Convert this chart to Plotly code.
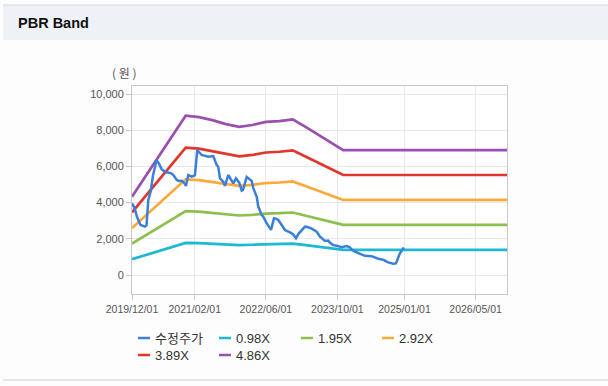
import plotly.graph_objects as go

# ---------------- data ----------------
price_dates = [
    "2019-12-01", "2019-12-18", "2020-01-04", "2020-01-28", "2020-02-28", "2020-03-09",
    "2020-03-21", "2020-04-06", "2020-04-22", "2020-05-17", "2020-06-02", "2020-06-20",
    "2020-07-13", "2020-08-04", "2020-08-25", "2020-09-08", "2020-10-01", "2020-10-16",
    "2020-11-04", "2020-11-19", "2020-12-03", "2020-12-19", "2021-01-11", "2021-02-02",
    "2021-02-18", "2021-03-20", "2021-04-12", "2021-05-04", "2021-06-07", "2021-06-30",
    "2021-07-11", "2021-07-23", "2021-08-14", "2021-08-26", "2021-09-17", "2021-10-11",
    "2021-10-22", "2021-11-09", "2021-12-01", "2021-12-18", "2021-12-27", "2022-01-21",
    "2022-02-24", "2022-03-07", "2022-03-30", "2022-04-10", "2022-05-03", "2022-05-14",
    "2022-06-06", "2022-07-06", "2022-07-26", "2022-08-12", "2022-08-24", "2022-09-17",
    "2022-10-09", "2022-11-12", "2022-12-03", "2022-12-23", "2023-01-12", "2023-02-22",
    "2023-03-11", "2023-04-09", "2023-05-13", "2023-06-05", "2023-07-09", "2023-07-31",
    "2023-08-12", "2023-09-03", "2023-09-26", "2023-10-31", "2023-12-04", "2023-12-26",
    "2024-01-07", "2024-01-29", "2024-03-03", "2024-04-06", "2024-05-22", "2024-07-06",
    "2024-08-09", "2024-09-12", "2024-10-16", "2024-11-04", "2024-12-01", "2024-12-28",
]
price_values = [
    3960, 3700, 3220, 2760, 2670, 2750,
    4150, 4600, 5500, 6350, 6150, 5850,
    5700, 5650, 5620, 5520, 5250, 5200,
    5210, 5100, 4920, 5520, 5430, 5500,
    6900, 6630, 6600, 6540, 6570, 6080,
    5980, 5340, 5155, 4920, 5525, 5155,
    5066, 5340, 5100, 4657, 4700, 5420,
    5200, 4800, 4330, 3780, 3320, 3220,
    2860, 2490, 3130, 3100, 3040, 2762,
    2486, 2350, 2250, 2030, 2300, 2669,
    2650, 2560, 2392, 2120, 1880, 1900,
    1780, 1650, 1620, 1530, 1600, 1530,
    1400, 1287, 1160, 1060, 1040, 900,
    840, 700, 620, 640, 1200, 1520,
]

band_dates = [
    "2019-12-01", "2020-03-01", "2020-06-01", "2020-09-01", "2020-12-01", "2021-03-01",
    "2021-06-01", "2021-09-01", "2021-12-01", "2022-03-01", "2022-06-01", "2022-09-01",
    "2022-12-01", "2023-03-01", "2023-06-01", "2023-09-01", "2023-11-10", "2026-12-01",
]
band_098 = [872, 1098, 1323, 1548, 1774, 1759, 1725, 1681, 1651, 1671, 1705, 1715,
            1735, 1646, 1553, 1460, 1392, 1392]
band_195 = [1736, 2184, 2633, 3081, 3530, 3500, 3432, 3344, 3286, 3325, 3393, 3413,
            3452, 3276, 3091, 2906, 2769, 2769]
band_292 = [2599, 3270, 3942, 4614, 5285, 5241, 5139, 5008, 4920, 4979, 5081, 5110,
            5168, 4906, 4628, 4351, 4146, 4146]
band_389 = [3462, 4357, 5252, 6146, 7041, 6983, 6846, 6671, 6555, 6632, 6769, 6808,
            6885, 6535, 6166, 5796, 5524, 5524]
band_486 = [4325, 5443, 6561, 7679, 8797, 8724, 8554, 8335, 8189, 8286, 8456, 8505,
            8602, 8165, 7703, 7241, 6901, 6901]

series_names = ["수정주가", "0.98X", "1.95X", "2.92X", "3.89X", "4.86X"]
series_colors = ["#3b7fd9", "#1db9d2", "#8dbf4c", "#fda93a", "#e2352b", "#9b4fae"]

x_tick_vals = ["2019-12-01", "2021-02-01", "2022-06-01", "2023-10-01", "2025-01-01", "2026-05-01"]
x_tick_text = ["2019/12/01", "2021/02/01", "2022/06/01", "2023/10/01", "2025/01/01", "2026/05/01"]
y_tick_vals = [0, 2000, 4000, 6000, 8000, 10000]
y_tick_text = ["0", "2,000", "4,000", "6,000", "8,000", "10,000"]

# ---------------- figure ----------------
W, H = 608, 386
L, R, T, B = 132, 507, 86, 294
FONT = "Liberation Sans, Arial, Noto Sans CJK KR, sans-serif"


def px_x(px):
    return (px - L) / (R - L)


def px_y(py):
    return (B - py) / (B - T)


fig = go.Figure()
bands = [band_098, band_195, band_292, band_389, band_486]
for i, vals in enumerate(bands):
    fig.add_trace(go.Scatter(x=band_dates, y=vals, mode="lines", name=series_names[i + 1],
                             line=dict(color=series_colors[i + 1], width=2.7),
                             showlegend=False, hoverinfo="skip"))
fig.add_trace(go.Scatter(x=price_dates, y=price_values, mode="lines", name=series_names[0],
                         line=dict(color=series_colors[0], width=2.5),
                         showlegend=False))

shapes = []
annotations = []

# header band
shapes.append(dict(type="rect", xref="paper", yref="paper",
                   x0=px_x(3), x1=px_x(608), y0=px_y(40), y1=px_y(5),
                   fillcolor="#eef2f7", line=dict(width=0), layer="below"))
shapes.append(dict(type="line", xref="paper", yref="paper",
                   x0=px_x(3), x1=px_x(608), y0=px_y(5), y1=px_y(5),
                   line=dict(color="#d5d8dc", width=1)))
shapes.append(dict(type="line", xref="paper", yref="paper",
                   x0=px_x(3), x1=px_x(608), y0=px_y(380), y1=px_y(380),
                   line=dict(color="#cfcfcf", width=1)))
annotations.append(dict(text="<b>PBR Band</b>", xref="paper", yref="paper",
                        x=px_x(16), y=px_y(23), xanchor="left", yanchor="middle",
                        showarrow=False, font=dict(size=14.5, color="#111", family=FONT)))
annotations.append(dict(text="( 원 )", xref="paper", yref="paper",
                        x=px_x(124), y=px_y(72), xanchor="center", yanchor="middle",
                        showarrow=False, font=dict(size=12, color="#555",
                                                   family="Noto Sans CJK KR, sans-serif")))

# custom legend
legend_pos = [(138, 338), (219, 338), (301, 338), (382, 338), (138, 355), (219, 355)]
for (lx, ly), name, color in zip(legend_pos, series_names, series_colors):
    shapes.append(dict(type="line", xref="paper", yref="paper",
                       x0=px_x(lx), x1=px_x(lx + 12), y0=px_y(ly), y1=px_y(ly),
                       line=dict(color=color, width=2.5)))
    annotations.append(dict(text=name, xref="paper", yref="paper",
                            x=px_x(lx + 15), y=px_y(ly), xanchor="left", yanchor="middle",
                            showarrow=False,
                            font=dict(size=13, color="#333",
                                      family="Liberation Sans, Noto Sans CJK KR, sans-serif")))

fig.update_layout(
    width=W, height=H,
    margin=dict(l=L, r=W - R, t=T, b=H - B, pad=0),
    paper_bgcolor="#fdfdfd", plot_bgcolor="#ffffff",
    font=dict(family=FONT, size=11, color="#555"),
    shapes=shapes, annotations=annotations,
    showlegend=False,
    xaxis=dict(type="date", range=["2019-12-01", "2026-12-01"],
               tickvals=x_tick_vals, ticktext=x_tick_text,
               showgrid=True, gridcolor="#e8e8e8", gridwidth=1,
               showline=True, linecolor="#c8c8c8", linewidth=1, mirror=True,
               ticks="outside", ticklen=5, tickcolor="#c8c8c8",
               tickfont=dict(size=10.5, color="#555"), zeroline=False),
    yaxis=dict(range=[-1050, 10442], tickvals=y_tick_vals, ticktext=y_tick_text,
               showgrid=True, gridcolor="#e8e8e8", gridwidth=1,
               showline=True, linecolor="#c8c8c8", linewidth=1, mirror=True,
               ticks="outside", ticklen=5, tickcolor="#c8c8c8",
               tickfont=dict(size=11, color="#555"), zeroline=False),
)

fig.write_html("out.html", config={"displayModeBar": False},
               post_script="document.body.style.margin='0px';document.body.style.background='#fdfdfd';")
